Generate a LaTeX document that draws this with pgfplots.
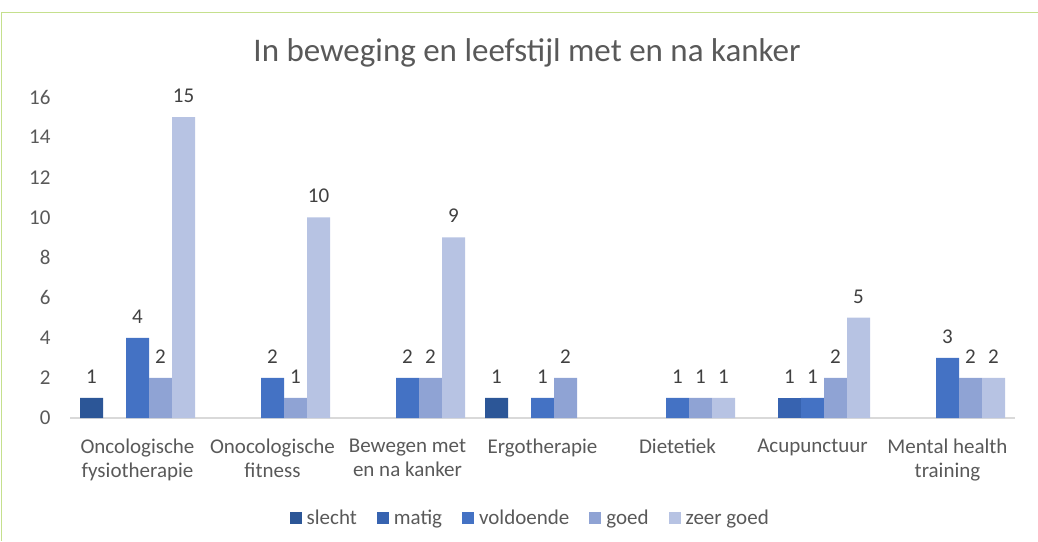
\documentclass[border=0pt]{standalone}
\usepackage{pgfplots}
\pgfplotsset{compat=1.18}
\usepackage{fontspec}
\setmainfont{Carlito}
\definecolor{framegreen}{RGB}{197,224,141}
\definecolor{cSlecht}{RGB}{44,86,151}
\definecolor{cMatig}{RGB}{55,99,176}
\definecolor{cVold}{RGB}{68,114,196}
\definecolor{cGoed}{RGB}{143,163,212}
\definecolor{cZeer}{RGB}{183,195,227}
\definecolor{txt}{RGB}{89,89,89}
\definecolor{lbl}{RGB}{64,64,64}
\begin{document}
\begin{tikzpicture}[x=1pt,y=1pt]
\useasboundingbox (0,0) rectangle (1038,541);
\draw[framegreen, line width=1.5pt] (1.5,0) -- (1.5,528.5) -- (1038,528.5);
\node[font=\fontsize{33}{38}\selectfont, text=txt] at (527,488) {In beweging en leefstijl met en na kanker};
\begin{axis}[
  at={(70pt,123pt)}, anchor=south west, scale only axis,
  width=945pt, height=321pt,
  ymin=0, ymax=16, xmin=-0.5, xmax=6.5,
  ybar=0pt, bar width=23pt,
  axis x line*=bottom, axis y line*=left,
  y axis line style={draw=none},
  x axis line style={draw={rgb,255:red,217;green,217;blue,217}, line width=1.2pt, -},
  major tick style={draw=none},
  ytick={0,2,...,16},
  xtick={0,...,6},
  xticklabels={{Oncologische\\fysiotherapie},{Onocologische\\fitness},{Bewegen met\\en na kanker},{Ergotherapie},{Dietetiek},{Acupunctuur},{Mental health\\training}},
  xticklabel style={align=center, font=\fontsize{21}{24}\selectfont, text=txt, yshift=-13pt},
  yticklabel style={font=\fontsize{21}{24}\selectfont, text=txt, xshift=-16pt},
  /pgf/number format/assume math mode=true,
  nodes near coords,
  every node near coord/.append style={font=\fontsize{21}{24}\selectfont, text=lbl, yshift=11pt},
  legend columns=-1,
  legend style={at={(axis description cs:0.487,-0.311)}, anchor=center, draw=none, fill=none,
    font=\fontsize{21}{24}\selectfont, text=txt,
    /tikz/every odd column/.append style={column sep=3pt},
    /tikz/every even column/.append style={column sep=18pt}},
  legend image code/.code={\path[#1,draw=none] (0pt,-6pt) rectangle (12pt,6pt);},
]
\addplot[fill=cSlecht, draw=none] coordinates {(0,1) (3,1)};
\addplot[fill=cMatig, draw=none] coordinates {(5,1)};
\addplot[fill=cVold, draw=none] coordinates {(0,4) (1,2) (2,2) (3,1) (4,1) (5,1) (6,3)};
\addplot[fill=cGoed, draw=none] coordinates {(0,2) (1,1) (2,2) (3,2) (4,1) (5,2) (6,2)};
\addplot[fill=cZeer, draw=none] coordinates {(0,15) (1,10) (2,9) (4,1) (5,5) (6,2)};
\legend{slecht,matig,voldoende,goed,zeer goed}
\end{axis}
\end{tikzpicture}
\end{document}
